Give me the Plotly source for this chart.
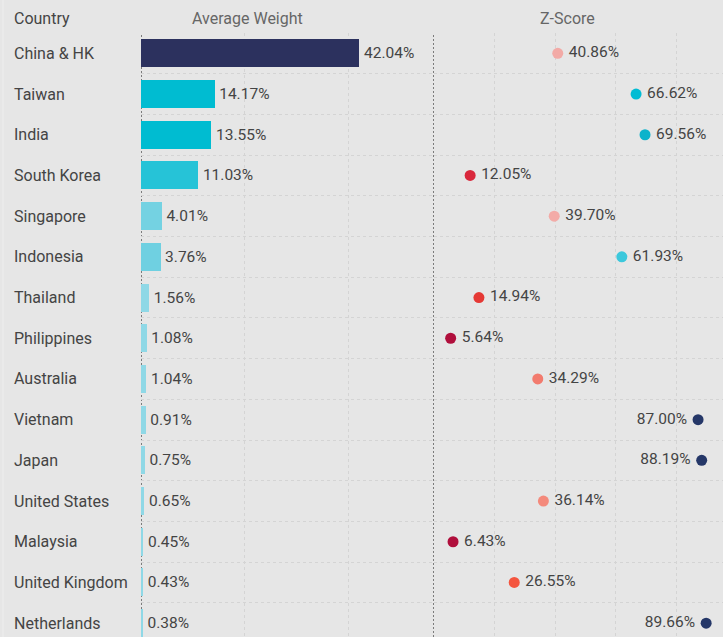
import plotly.graph_objects as go

countries = ["China & HK", "Taiwan", "India", "South Korea", "Singapore", "Indonesia",
             "Thailand", "Philippines", "Australia", "Vietnam", "Japan", "United States",
             "Malaysia", "United Kingdom", "Netherlands"]
avg_weight = [42.04, 14.17, 13.55, 11.03, 4.01, 3.76, 1.56, 1.08, 1.04, 0.91, 0.75, 0.65, 0.45, 0.43, 0.38]
z_score = [40.86, 66.62, 69.56, 12.05, 39.70, 61.93, 14.94, 5.64, 34.29, 87.00, 88.19, 36.14, 6.43, 26.55, 89.66]

bar_colors = ["#2c315e", "#00bcd1", "#00bcd1", "#26c3d7", "#74d2e2", "#6fd0e1",
              "#8fd8e6", "#8fd8e6", "#8fd8e6", "#8fd8e6", "#8fd8e6", "#8fd8e6",
              "#8fd8e6", "#8fd8e6", "#8fd8e6"]
dot_colors = ["#f2aaa6", "#00bcd4", "#0cb3cb", "#d9283c", "#f3aba7", "#3cc8dc",
              "#e53935", "#b00f3c", "#f27b6e", "#253768", "#253768", "#f48a7c",
              "#b00f3c", "#f4553f", "#253768"]

W, H = 723, 637
TOP = 33
BG = "#e6e6e6"
TXT = "#444444"
GRID = "#d4d4d4"
GDASH = "3px,3px"
FONT = "Roboto, sans-serif"

rows = list(range(len(countries)))
text_pos = ["middle left" if v > 80 else "middle right" for v in z_score]
z_text = [(f"{v:.2f}%\u2009" if v > 80 else f"\u2009{v:.2f}%") for v in z_score]

fig = go.Figure()
fig.add_trace(go.Bar(
    x=avg_weight, y=rows, orientation="h",
    marker=dict(color=bar_colors, line=dict(width=0)),
    width=0.69,
    text=[f"\u200a{v:.2f}%" for v in avg_weight],
    textposition="outside", constraintext="none", cliponaxis=False,
    textfont=dict(color=TXT, size=15.5, family=FONT),
    xaxis="x", yaxis="y", hoverinfo="skip",
))
fig.add_trace(go.Scatter(
    x=z_score, y=rows, mode="markers+text",
    marker=dict(color=dot_colors, size=11),
    text=z_text,
    textposition=text_pos, cliponaxis=False,
    textfont=dict(color=TXT, size=15.5, family=FONT),
    xaxis="x2", yaxis="y2", hoverinfo="skip",
))

ph = H - TOP
ymax = -0.5 + ph / 40.7
grid_vals = [i + 0.5 for i in range(len(countries) - 1)]

yax = dict(range=[ymax, -0.5], showticklabels=False, tickvals=grid_vals,
           showgrid=True, gridcolor=GRID, griddash=GDASH, gridwidth=1,
           zeroline=False, showline=False, ticks="")

x1_end = 433.5 / W
fig.update_layout(
    width=W, height=H,
    margin=dict(l=0, r=0, t=TOP, b=0, pad=0),
    paper_bgcolor=BG, plot_bgcolor=BG,
    showlegend=False, bargap=0,
    font=dict(family=FONT, color=TXT, size=14),
    xaxis=dict(domain=[141 / W, x1_end], range=[0, 56.3], tickvals=[20, 40],
               showticklabels=False, showgrid=True, gridcolor=GRID, griddash=GDASH,
               zeroline=False, showline=False, ticks="", anchor="y"),
    xaxis2=dict(domain=[x1_end, 1], range=[0, 95.2], tickvals=[20, 40, 60, 80],
                showticklabels=False, showgrid=True, gridcolor=GRID, griddash=GDASH,
                zeroline=False, showline=False, ticks="", anchor="y2"),
    yaxis=dict(anchor="x", **yax),
    yaxis2=dict(anchor="x2", matches="y", **yax),
    shapes=[
        dict(type="line", xref="x", yref="paper", x0=0, x1=0, y0=0, y1=1,
             line=dict(color="#111111", width=1, dash="2px,2px"), layer="below"),
        dict(type="line", xref="x2", yref="paper", x0=0, x1=0, y0=0, y1=1,
             line=dict(color="#111111", width=1, dash="2px,2px")),
        dict(type="line", xref="paper", yref="paper", x0=3 / W, x1=3 / W, y0=-0.1, y1=1.1,
             line=dict(color="#eeeeee", width=1)),
    ],
)

annotations = []
for i, c in enumerate(countries):
    annotations.append(dict(text=c, xref="paper", yref="y", x=12 / W, y=i,
                            xanchor="left", yanchor="middle", showarrow=False,
                            font=dict(color=TXT, size=16, family=FONT)))
hy = 1 + (TOP - 19) / ph
annotations.append(dict(text="Country", xref="paper", yref="paper", x=12 / W, y=hy,
                        xanchor="left", yanchor="middle", showarrow=False,
                        font=dict(color=TXT, size=16, family=FONT)))
annotations.append(dict(text="Average Weight", xref="paper", yref="paper", x=247.5 / W, y=hy,
                        xanchor="center", yanchor="middle", showarrow=False,
                        font=dict(color="#666666", size=16, family=FONT)))
annotations.append(dict(text="Z-Score", xref="paper", yref="paper", x=567 / W, y=hy,
                        xanchor="center", yanchor="middle", showarrow=False,
                        font=dict(color="#666666", size=16, family=FONT)))
fig.update_layout(annotations=annotations)

fig.write_html(
    "out.html",
    config={"displayModeBar": False, "staticPlot": True},
    post_script="document.body.style.margin='0';document.body.style.padding='0';"
                "document.body.style.overflow='hidden';"
                "document.documentElement.style.overflow='hidden';",
)
